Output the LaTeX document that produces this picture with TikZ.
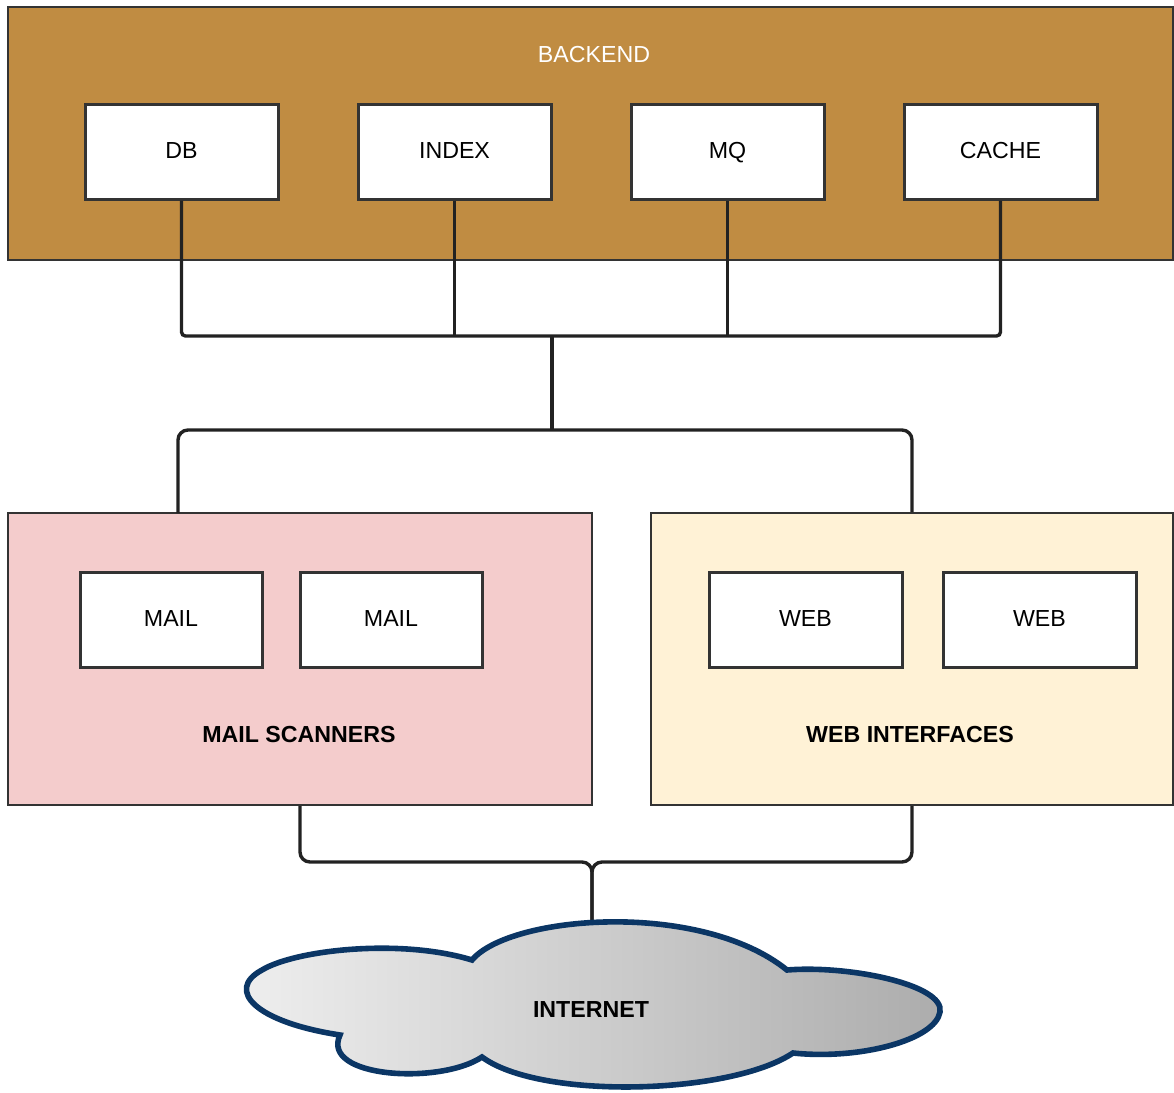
\documentclass[tikz,border=0pt]{standalone}
\usepackage{fontspec}
\setmainfont{Liberation Sans}

\definecolor{backendfill}{HTML}{C08C42}
\definecolor{mailfill}{HTML}{F4CCCC}
\definecolor{webfill}{HTML}{FFF2D6}
\definecolor{boxline}{HTML}{333333}
\definecolor{wireline}{HTML}{222222}
\definecolor{cloudline}{HTML}{0B3665}

\begin{document}
\begin{tikzpicture}[x=0.5pt,y=-0.5pt,
    font=\fontsize{11.6}{14}\selectfont,
    group/.style={draw=boxline,line width=1pt,inner sep=0pt},
    svc/.style={draw=boxline,fill=white,line width=1.5pt,minimum width=96.5pt,minimum height=47.5pt,inner sep=0pt,text height=0.72em,text depth=0pt},
    wire/.style={draw=wireline,line width=1.7pt,rounded corners=5pt}]
  \useasboundingbox (0,0) rectangle (1174,1093);

  % groups
  \node[group,fill=backendfill,minimum width=582.5pt,minimum height=126.5pt] (backend) at (590.5,133.5) {};
  \node[group,fill=mailfill,minimum width=292pt,minimum height=146pt] (mailscan) at (300,659) {};
  \node[group,fill=webfill,minimum width=261pt,minimum height=146pt] (webif) at (912,659) {};
  \node[text=white] (backendlbl) at (594,55) {BACKEND};
  \node[font=\fontsize{11.6}{14}\selectfont\bfseries] (maillbl) at (299,735) {MAIL SCANNERS};
  \node[font=\fontsize{11.6}{14}\selectfont\bfseries] (weblbl) at (910,735) {WEB INTERFACES};

  % services
  \node[svc] (db) at (181.5,151.5) {DB};
  \node[svc] (index) at (454.5,151.5) {INDEX};
  \node[svc] (mq) at (727.5,151.5) {MQ};
  \node[svc] (cache) at (1000.5,151.5) {CACHE};
  \node[svc,minimum width=91pt] (mail1) at (171,619.5) {MAIL};
  \node[svc,minimum width=91pt] (mail2) at (391,619.5) {MAIL};
  \node[svc] (web1) at (805.5,619.5) {WEB};
  \node[svc] (web2) at (1039.5,619.5) {WEB};

  % connectors
  \coordinate (bus) at (552,336);
  \coordinate (split) at (552,430);
  \coordinate (mailtap) at (178,513);
  \coordinate (merge) at (592,862);
  \coordinate (cloudtop) at (592,930);
  \draw[wire,rounded corners=2pt] (db.south) |- (bus) -| (cache.south);
  \draw[wire] (index.south) -- (index.south |- bus);
  \draw[wire] (mq.south) -- (mq.south |- bus);
  \draw[wire] (bus) -- (split);
  \draw[wire] (mailtap) |- (split) -| (webif.north);
  \draw[wire] (mailscan.south) |- (merge) -- (cloudtop);
  \draw[wire] (webif.south) |- (merge) -- (cloudtop);

  % internet cloud
  \draw[draw=cloudline,line width=2.8pt,left color=gray!12,right color=gray!65]
    (340,1035) .. controls (255,1022) and (225,990) .. (262,970)
    .. controls (295,950) and (400,938) .. (472,960)
    .. controls (510,915) and (700,900) .. (787,970)
    .. controls (850,965) and (945,985) .. (940,1012)
    .. controls (935,1040) and (860,1060) .. (793,1053)
    .. controls (730,1095) and (540,1100) .. (482,1057)
    .. controls (440,1085) and (320,1078) .. (340,1035) -- cycle;
  \node[font=\fontsize{11.6}{14}\selectfont\bfseries] (net) at (591,1010) {INTERNET};
\end{tikzpicture}
\end{document}
